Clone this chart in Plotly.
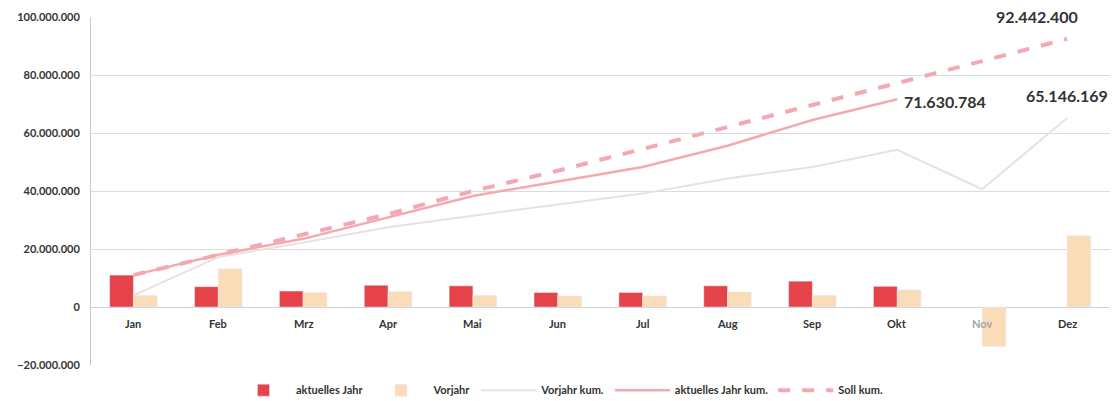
import plotly.graph_objects as go

months = ["Jan", "Feb", "Mrz", "Apr", "Mai", "Jun", "Jul", "Aug", "Sep", "Okt", "Nov", "Dez"]

aktuelles_jahr = [11.0e6, 7.0e6, 5.5e6, 7.5e6, 7.3e6, 5.0e6, 5.0e6, 7.3e6, 8.9e6, 7.130784e6, None, None]
vorjahr = [4.0e6, 13.2e6, 5.0e6, 5.3e6, 4.0e6, 3.8e6, 3.8e6, 5.2e6, 4.0e6, 5.9e6, -13.6e6, 24.546169e6]

vorjahr_kum = [4.0e6, 17.2e6, 22.2e6, 27.5e6, 31.5e6, 35.3e6, 39.1e6, 44.3e6, 48.3e6, 54.2e6, 40.6e6, 65146169]
aktuelles_jahr_kum = [11.0e6, 18.0e6, 23.5e6, 31.0e6, 38.3e6, 43.3e6, 48.3e6, 55.6e6, 64.5e6, 71630784, None, None]
soll_kum = [11.0e6, 18.0e6, 25.0e6, 32.0e6, 40.0e6, 47.0e6, 54.5e6, 62.0e6, 69.5e6, 77.0e6, 84.8e6, 92442400]

y_ticks = [-20e6, 0, 20e6, 40e6, 60e6, 80e6, 100e6]

RED = "#e6424a"
PEACH = "#fbdcb8"
LIGHT = "#e9e0e1"
PINK = "#f4a9b2"
TXT = "#333333"
FONT = "Lato"


def fmt(v):
    return f"{int(round(v)):,}".replace(",", ".")


fig = go.Figure()
fig.add_trace(go.Bar(x=months, y=aktuelles_jahr, name="<b>aktuelles Jahr</b>", marker_color=RED))
fig.add_trace(go.Bar(x=months, y=vorjahr, name="<b>Vorjahr</b>", marker_color=PEACH))
fig.add_trace(go.Scatter(x=months, y=vorjahr_kum, name="<b>Vorjahr kum.</b>", mode="lines",
                         line=dict(color=LIGHT, width=2)))
fig.add_trace(go.Scatter(x=months, y=aktuelles_jahr_kum, name="<b>aktuelles Jahr kum.</b>", mode="lines",
                         line=dict(color=PINK, width=2.5)))
fig.add_trace(go.Scatter(x=months, y=soll_kum, name="<b>Soll kum.</b>", mode="lines",
                         line=dict(color=PINK, width=4, dash="dash")))

annotations = []
for m, v in zip(months, vorjahr):
    annotations.append(dict(x=m, y=0, xref="x", yref="y", text=f"<b>{m}</b>", showarrow=False,
                            yanchor="top", yshift=-8,
                            font=dict(family=FONT, size=11,
                                      color="#a0a8a8" if (v is not None and v < 0) else TXT)))

last_soll = soll_kum[-1]
last_akt = [v for v in aktuelles_jahr_kum if v is not None][-1]
last_akt_idx = max(i for i, v in enumerate(aktuelles_jahr_kum) if v is not None)
last_vj = vorjahr_kum[-1]
annotations.append(dict(x=months[-1], y=last_soll, text=f"<b>{fmt(last_soll)}</b>", showarrow=False,
                        xanchor="center", yanchor="middle", xshift=-30, yshift=22,
                        font=dict(family=FONT, size=16, color=TXT)))
annotations.append(dict(x=months[last_akt_idx], y=last_akt, text=f"<b>{fmt(last_akt)}</b>", showarrow=False,
                        xanchor="left", yanchor="middle", xshift=5, yshift=-2,
                        font=dict(family=FONT, size=16, color=TXT)))
annotations.append(dict(x=months[-1], y=last_vj, text=f"<b>{fmt(last_vj)}</b>", showarrow=False,
                        xanchor="center", yanchor="middle", xshift=0, yshift=23,
                        font=dict(family=FONT, size=16, color=TXT)))

fig.update_layout(
    width=1119, height=401,
    margin=dict(l=91, r=9, t=17, b=36, autoexpand=False),
    paper_bgcolor="white", plot_bgcolor="white",
    separators=",.",
    barmode="group", bargap=0.44, bargroupgap=0,
    showlegend=True,
    legend=dict(orientation="h", x=0.5, xanchor="center", xref="container",
                y=0.027, yanchor="middle", yref="container",
                font=dict(family=FONT, size=11, color=TXT),
                itemwidth=55, traceorder="normal", tracegroupgap=0),
    annotations=annotations,
    font=dict(family=FONT, color=TXT),
)
fig.update_xaxes(showticklabels=False, showgrid=False, zeroline=False, showline=False, ticks="")
fig.update_yaxes(range=[-20e6, 100e6], tickvals=y_ticks, tickformat=",.0f",
                 tickfont=dict(family=FONT, size=11, color=TXT, weight="bold"),
                 showgrid=True, gridcolor="#dcdcdc", gridwidth=1,
                 zeroline=True, zerolinecolor="#d0d0d8", zerolinewidth=1,
                 showline=True, linecolor="#c8c8c8", linewidth=1, ticks="", ticklabelstandoff=8)

fig.write_html("out.html", config={"displayModeBar": False},
               post_script="document.body.style.margin='0';")
